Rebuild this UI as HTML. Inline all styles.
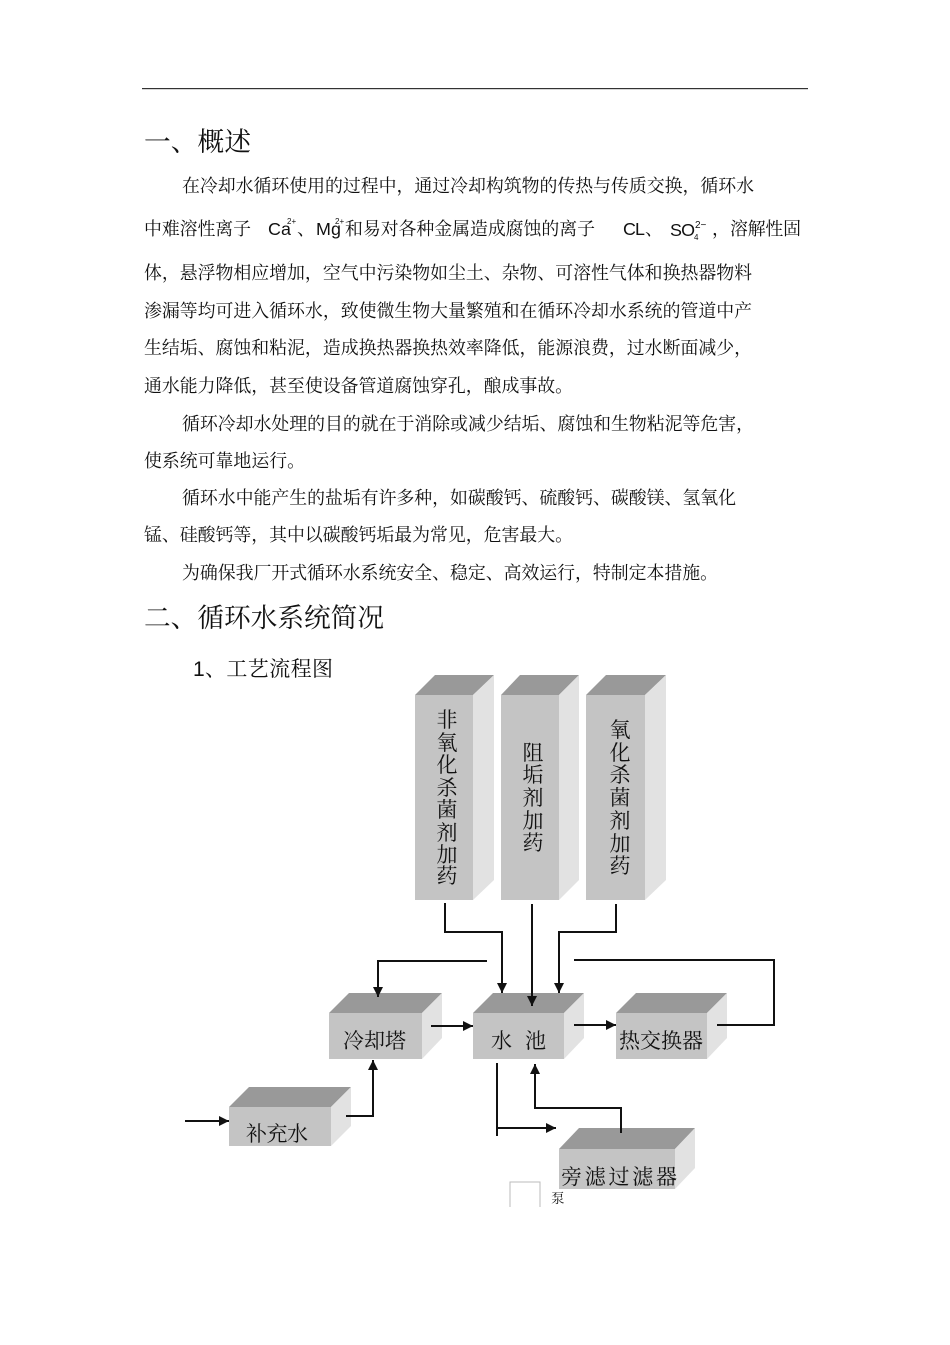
<!DOCTYPE html>
<html lang="zh"><head><meta charset="utf-8"><style>
html,body{margin:0;padding:0;background:#fff;width:950px;height:1345px;overflow:hidden}
svg{display:block;position:absolute;left:0;top:0}
text{font-family:"Liberation Serif","Noto Serif CJK SC",serif;fill:#111}
.b{font-size:17.9px}
.l{font-family:"Liberation Sans","Noto Sans CJK SC",sans-serif}
.h{font-size:26.7px}
.d{font-size:21px;fill:#111}
.top{fill:#999}.front{fill:#c4c4c4}.side{fill:#e2e2e2}
.c{fill:none;stroke:#111;stroke-width:2}
</style></head><body>
<svg width="950" height="1345" viewBox="0 0 950 1345" xmlns="http://www.w3.org/2000/svg">
<defs>
<marker id="a" markerUnits="userSpaceOnUse" markerWidth="12" markerHeight="12" refX="10" refY="6" orient="auto"><path d="M0 1L10 6L0 11Z" fill="#111"/></marker>
</defs>
<rect x="142" y="88" width="666" height="1.2" fill="#333"/>

<text class="h" x="144" y="151" textLength="107">一、概述</text>
<text class="b" x="182" y="192" textLength="572">在冷却水循环使用的过程中，通过冷却构筑物的传热与传质交换，循环水</text>
<text class="b" x="144" y="235" textLength="107">中难溶性离子</text>
<text class="b l" x="268" y="235" textLength="23">Ca</text>
<text class="l" x="287" y="224" font-size="8">2+</text>
<text class="b" x="297" y="235">、</text>
<text class="b l" x="316" y="235" textLength="25">Mg</text>
<text class="l" x="335" y="224" font-size="8">2+</text>
<text class="b" x="345" y="235" textLength="250">和易对各种金属造成腐蚀的离子</text>
<text class="b l" x="623" y="235" textLength="22">CL</text>
<text class="b" x="645" y="235">、</text>
<text class="b l" x="670" y="236" textLength="25">SO</text>
<text class="l" x="695" y="228" font-size="10">2−</text>
<text class="l" x="694" y="240" font-size="8">4</text>
<text class="b" x="712" y="235">，</text>
<text class="b" x="730" y="235" textLength="71">溶解性固</text>
<text class="b" x="144" y="279" textLength="608">体，悬浮物相应增加，空气中污染物如尘土、杂物、可溶性气体和换热器物料</text>
<text class="b" x="144" y="317" textLength="608">渗漏等均可进入循环水，致使微生物大量繁殖和在循环冷却水系统的管道中产</text>
<text class="b" x="144" y="354" textLength="608">生结垢、腐蚀和粘泥，造成换热器换热效率降低，能源浪费，过水断面减少，</text>
<text class="b" x="144" y="392" textLength="429">通水能力降低，甚至使设备管道腐蚀穿孔，酿成事故。</text>
<text class="b" x="182" y="430" textLength="572">循环冷却水处理的目的就在于消除或减少结垢、腐蚀和生物粘泥等危害，</text>
<text class="b" x="144" y="467" textLength="161">使系统可靠地运行。</text>
<text class="b" x="182" y="504" textLength="554">循环水中能产生的盐垢有许多种，如碳酸钙、硫酸钙、碳酸镁、氢氧化</text>
<text class="b" x="144" y="541" textLength="429">锰、硅酸钙等，其中以碳酸钙垢最为常见，危害最大。</text>
<text class="b" x="182" y="579" textLength="536">为确保我厂开式循环水系统安全、稳定、高效运行，特制定本措施。</text>
<text class="h" x="144" y="627" textLength="240">二、循环水系统简况</text>
<text class="l" font-size="21" x="193" y="676">1</text>
<text font-size="21" x="205" y="676" textLength="128">、工艺流程图</text>

<!-- tall boxes -->
<g>
<path class="top" d="M415 695L435 675H494L473 695Z"/><rect class="front" x="415" y="695" width="58" height="205"/><path class="side" d="M473 695L494 675V880L473 900Z"/>
<path class="top" d="M501 695L520 675H579L559 695Z"/><rect class="front" x="501" y="695" width="58" height="205"/><path class="side" d="M559 695L579 675V880L559 900Z"/>
<path class="top" d="M586 695L606 675H666L645 695Z"/><rect class="front" x="586" y="695" width="59" height="205"/><path class="side" d="M645 695L666 675V880L645 900Z"/>
</g>
<g class="d" text-anchor="middle">
<text x="447" y="727">非</text><text x="447" y="750">氧</text><text x="447" y="772">化</text><text x="447" y="795">杀</text><text x="447" y="817">菌</text><text x="447" y="840">剂</text><text x="447" y="862">加</text><text x="447" y="883">药</text>
<text x="533" y="760">阻</text><text x="533" y="782">垢</text><text x="533" y="805">剂</text><text x="533" y="828">加</text><text x="533" y="850">药</text>
<text x="620" y="737">氧</text><text x="620" y="760">化</text><text x="620" y="782">杀</text><text x="620" y="805">菌</text><text x="620" y="828">剂</text><text x="620" y="851">加</text><text x="620" y="873">药</text>
</g>

<!-- small boxes -->
<path class="top" d="M329 1013L349 993H442L422 1013Z"/><rect class="front" x="329" y="1013" width="93" height="46"/><path class="side" d="M422 1013L442 993V1038L422 1059Z"/>
<path class="top" d="M473 1013L493 993H584L564 1013Z"/><rect class="front" x="473" y="1013" width="91" height="46"/><path class="side" d="M564 1013L584 993V1038L564 1059Z"/>
<path class="top" d="M616 1013L636 993H727L707 1013Z"/><rect class="front" x="616" y="1013" width="91" height="46"/><path class="side" d="M707 1013L727 993V1038L707 1059Z"/>
<path class="top" d="M229 1107L249 1087H351L331 1107Z"/><rect class="front" x="229" y="1107" width="102" height="39"/><path class="side" d="M331 1107L351 1087V1126L331 1146Z"/>
<path class="top" d="M559 1149L579 1128H695L675 1149Z"/><rect class="front" x="559" y="1149" width="116" height="40"/><path class="side" d="M675 1149L695 1128V1168L675 1189Z"/>

<g class="d">
<text x="343" y="1048" textLength="63">冷却塔</text>
<text x="491" y="1048">水</text><text x="525" y="1048">池</text>
<text x="619" y="1048" textLength="84">热交换器</text>
<text x="246" y="1141" textLength="62">补充水</text>
<text x="561" y="1184" textLength="116">旁滤过滤器</text>
</g>
<text x="551" y="1203" font-size="13.5">泵</text>
<path d="M510 1207V1182H540V1207" fill="none" stroke="#bbb" stroke-width="1"/>

<!-- connectors -->
<path class="c" d="M445 903V932H502V993" marker-end="url(#a)"/>
<path class="c" d="M532 904V1006" marker-end="url(#a)"/>
<path class="c" d="M616 904V932H559V993" marker-end="url(#a)"/>
<path class="c" d="M487 961H378V997" marker-end="url(#a)"/>
<path class="c" d="M574 960H774V1025H717"/>
<path class="c" d="M431 1026H473" marker-end="url(#a)"/>
<path class="c" d="M574 1025H616" marker-end="url(#a)"/>
<path class="c" d="M185 1121H229" marker-end="url(#a)"/>
<path class="c" d="M346 1116H373V1060" marker-end="url(#a)"/>
<path class="c" d="M497 1063V1136"/>
<path class="c" d="M497 1128H556" marker-end="url(#a)"/>
<path class="c" d="M621 1133V1108H535V1064" marker-end="url(#a)"/>
</svg>
</body></html>
